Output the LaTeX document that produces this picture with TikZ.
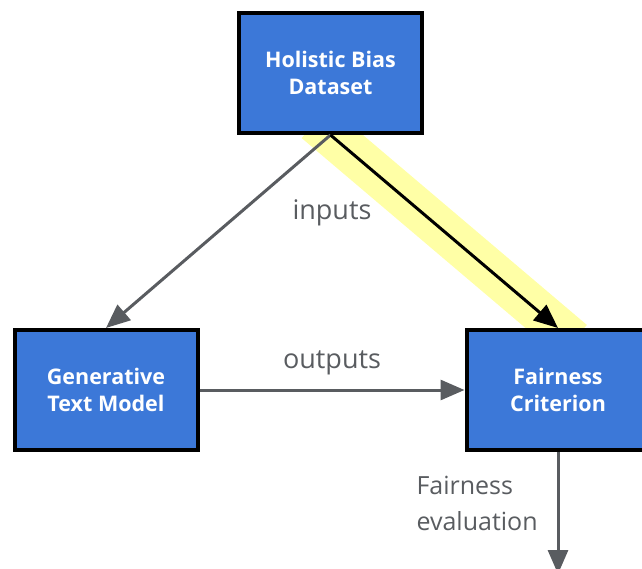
\documentclass[tikz,border=0pt]{standalone}
\usepackage{fontspec}
\setmainfont{Open Sans}
\usepackage{tikz}
\usetikzlibrary{arrows.meta,backgrounds}

\definecolor{boxblue}{HTML}{3C78D8}
\definecolor{arrowgray}{HTML}{595C60}
\definecolor{marker}{HTML}{FFFFA6}

\tikzset{
  block/.style={rectangle, draw=black, line width=4pt, fill=boxblue,
                text=white, align=center, font=\fontsize{21.5}{27}\selectfont\bfseries,
                minimum width=183pt, minimum height=120pt},
  flow/.style={draw=arrowgray, line width=3pt,
               -{Triangle[length=24pt,width=20pt]}},
  note/.style={text=arrowgray, font=\fontsize{27}{36}\selectfont}
}

\begin{document}
\begin{tikzpicture}[x=1pt,y=-1pt]
\useasboundingbox (0,0) rectangle (642,569);

\node[block] (data) at (330.5,73) {Holistic Bias\\Dataset};

\node[block] (gen) at (106,390) {Generative\\Text Model};

\node[block] (fair) at (558,390) {Fairness\\Criterion};

\coordinate (out) at (558,574);

\node[note] (inp) at (332,213) {inputs};
\node[note] (outp) at (332,363) {outputs};
\node[note, align=left, anchor=west,
      font=\fontsize{25}{36}\selectfont] (eval) at (413,503) {Fairness\\evaluation};

% highlight under the black edge
\begin{scope}[on background layer]
\draw[marker, line width=42pt, shorten <=-20pt, shorten >=-20pt] (data.south) -- (fair.north);
\end{scope}

\draw[flow] (data.south) -- (gen.north);
\draw[flow] (gen.east) -- (fair.west);
\draw[flow] (fair.south) -- (out);
\draw[line width=3pt, -{Triangle[length=24pt,width=20pt]}] (data.south) -- (fair.north);
\end{tikzpicture}
\end{document}
